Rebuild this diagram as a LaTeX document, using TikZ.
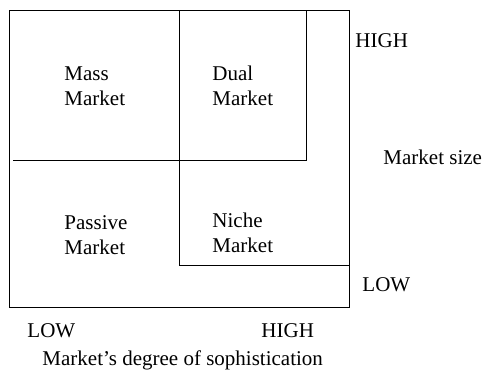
\documentclass[tikz,border=0pt]{standalone}
\usepackage{fontspec}
\setmainfont{Liberation Serif}
\begin{document}
\begin{tikzpicture}[x=1pt,y=-1pt,line width=0.9pt,
  every node/.style={font=\fontsize{21}{25}\selectfont,inner sep=0pt,anchor=base west,align=left}]
 \useasboundingbox (0,0) rectangle (483,372);
 % outer frame
 \draw (9,10)--(349,10)--(349,307)--(9,307)--cycle;
 % upper band (large market)
 \draw (13,160)--(306,160)--(306,10);
 % right band (sophisticated market)
 \draw (179,10)--(179,265)--(349,265);

 % base anchor sits on the second line
 \foreach \x/\y/\a/\n in {64/105/Mass/mass,212/105/Dual/dual,64/254/Passive/passive,212/252/Niche/niche}
 {
   \node (\n) at (\x,\y) {\a\\Market};
 }

 \node (yhigh) at (355,48) {HIGH};
 \node (ysize) at (383,164) {Market size};
 \node (ylow) at (362,291) {LOW};
 \node (xlow) at (27,337) {LOW};
 \node (xhigh) at (261,337) {HIGH};
 \node (xsoph) at (42,365) {Market's degree of sophistication};
\end{tikzpicture}
\end{document}
